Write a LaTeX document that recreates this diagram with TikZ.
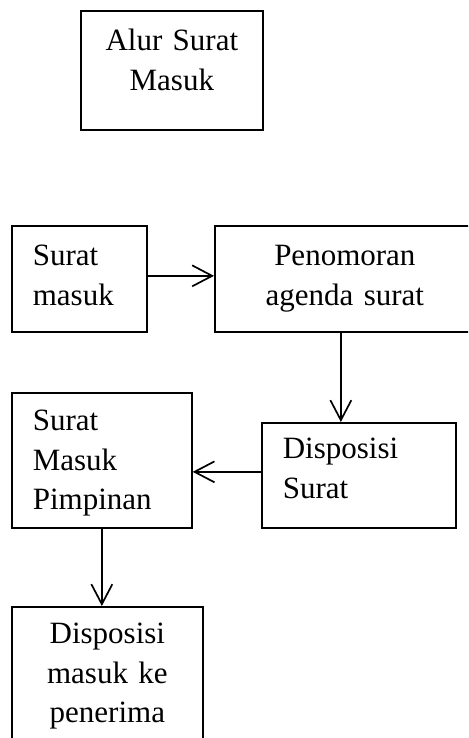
\documentclass[tikz,border=0pt]{standalone}
\usepackage{fontspec}
\setmainfont{Liberation Serif}
\usetikzlibrary{arrows.meta,positioning}
\tikzset{
    kotak/.style = {draw, line width=1.7pt, rectangle, anchor=north west,
                    inner ysep=0pt, font=\fontsize{31}{39.5}\selectfont},
    panah/.style = {->, line width=1.7pt},
        }
\begin{document}
\begin{tikzpicture}[x=1pt,y=-1pt,>={Straight Barb[length=20pt,width=21pt,line width=1.7pt]}]
 \useasboundingbox (0,0) rectangle (468,738);
 \clip (0,0) rectangle (468,738);
 % judul
 \node[kotak, inner xsep=0pt, text width=182pt, align=center,
       text height=40pt, text depth=79pt] (judul) at (80,10) {Alur Surat\\Masuk};
 % baris atas
 \node[kotak, inner xsep=21pt, text width=93pt, align=left,
       text height=40pt, text depth=66pt] (masuk) at (11,225) {Surat\\masuk};
 \node[kotak, inner xsep=0pt, text width=260pt, align=center,
       text height=40pt, text depth=66pt] (nomor) at (214,225) {Penomoran\\agenda surat};
 % baris tengah
 \node[kotak, inner xsep=21pt, text width=152pt, align=left,
       text height=36pt, text depth=69pt] (dispo) at (261,422) {Disposisi\\Surat};
 \node[kotak, inner xsep=21pt, text width=138pt, align=left,
       text height=38pt, text depth=97pt] (pimpin) at (11,392) {Surat\\Masuk\\Pimpinan};
 % bawah
 \node[kotak, inner xsep=0pt, text width=191pt, align=center,
       text height=37pt, text depth=102pt] (terima) at (11,606) {Disposisi\\masuk ke\\penerima};
 % panah
 \draw[panah] ([yshift=3pt]masuk.east) -- ([yshift=3pt]masuk.east -| nomor.west);
 \draw[panah] ([xshift=-4pt]nomor.south) -- ([xshift=-4pt]nomor.south |- dispo.north);
 \draw[panah] ([yshift=3.5pt]dispo.west) -- ([yshift=3.5pt]dispo.west -| pimpin.east);
 \draw[panah] (pimpin.south) -- (pimpin.south |- terima.north);
\end{tikzpicture}
\end{document}
